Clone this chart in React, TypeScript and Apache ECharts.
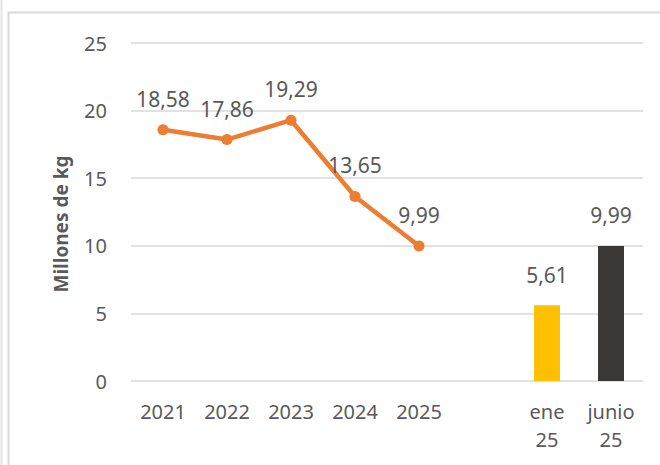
import React, { useEffect, useRef } from "react";
import * as echarts from "echarts";

const categories = ["2021", "2022", "2023", "2024", "2025", "", "ene\n25", "junio\n25"];
const lineValues = [18.58, 17.86, 19.29, 13.65, 9.99, null, null, null];
const barValues = [null, null, null, null, null, null, 5.61, 9.99];
const barColors = ["", "", "", "", "", "", "#FFC000", "#3B3838"];
const yTicks = { min: 0, max: 25, interval: 5 };
const axisTitle = "Millones de kg";

const fmt = (v: number) => v.toFixed(2).replace(".", ",");
const FONT = "'Noto Sans', 'Open Sans', sans-serif";
const GRAY = "#595959";

export default function App() {
  const ref = useRef<HTMLDivElement>(null);
  useEffect(() => {
    document.body.style.margin = "0";
    const chart = echarts.init(ref.current!, undefined, { renderer: "svg" });
    chart.setOption({
      animation: false,
      backgroundColor: "#ffffff",
      textStyle: { fontFamily: FONT },
      grid: { left: 131, right: 17, top: 43, bottom: 84 },
      xAxis: {
        type: "category",
        data: categories,
        axisLine: { show: false },
        axisTick: { show: false },
        axisLabel: {
          color: GRAY,
          fontSize: 20,
          fontFamily: FONT,
          lineHeight: 28,
          margin: 16,
          interval: 0,
        },
      },
      yAxis: {
        type: "value",
        min: yTicks.min,
        max: yTicks.max,
        interval: yTicks.interval,
        axisLine: { show: false },
        axisTick: { show: false },
        axisLabel: { color: GRAY, fontSize: 20, fontFamily: FONT, margin: 24 },
        splitLine: { lineStyle: { color: "#d9d9d9", width: 1.5 } },
      },
      graphic: [
        {
          type: "line",
          shape: { x1: 1.5, y1: 0, x2: 1.5, y2: 465 },
          style: { stroke: "#e3e3e3", lineWidth: 2 },
          silent: true,
        },
        {
          type: "rect",
          shape: { x: 8.5, y: 12.5, width: 700, height: 500 },
          style: { fill: "none", stroke: "#d9d9d9", lineWidth: 2 },
          silent: true,
        },
        {
          type: "text",
          x: 61,
          y: 224,
          rotation: Math.PI / 2,
          style: {
            text: axisTitle,
            fill: GRAY,
            font: `bold 19px ${FONT}`,
            textAlign: "center",
            textVerticalAlign: "middle",
          },
        },
      ],
      series: [
        {
          type: "line",
          data: lineValues,
          connectNulls: false,
          symbol: "circle",
          symbolSize: 11,
          itemStyle: { color: "#ED7D31" },
          lineStyle: { color: "#ED7D31", width: 4.5 },
          label: {
            show: true,
            position: "top",
            distance: 15,
            color: GRAY,
            fontSize: 21,
            fontFamily: FONT,
            formatter: (p: any) => fmt(p.value),
          },
          z: 3,
        },
        {
          type: "bar",
          data: barValues.map((v, i) =>
            v == null ? null : { value: v, itemStyle: { color: barColors[i] } }
          ),
          barWidth: 26,
          label: {
            show: true,
            position: "top",
            distance: 20,
            color: GRAY,
            fontSize: 21,
            fontFamily: FONT,
            formatter: (p: any) => fmt(p.value),
          },
        },
      ],
    });
    return () => chart.dispose();
  }, []);
  return (
    <div
      ref={ref}
      style={{ position: "fixed", left: 0, top: 0, width: 660, height: 465 }}
    />
  );
}
